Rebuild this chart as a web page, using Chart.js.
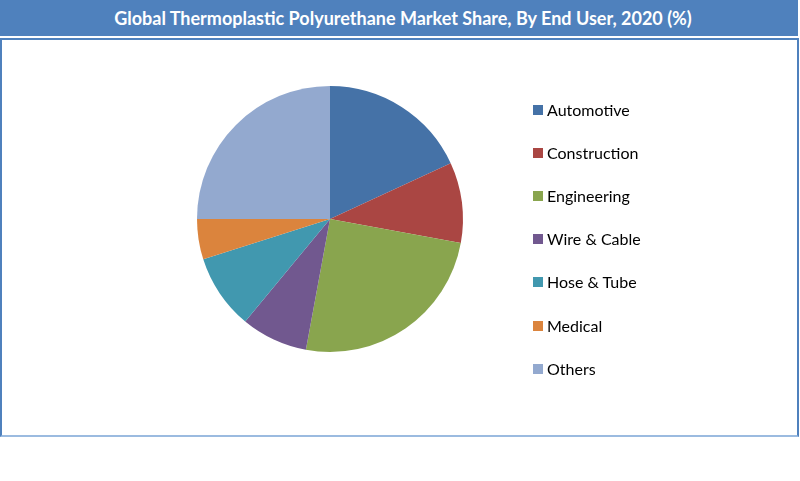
<!DOCTYPE html>
<html>
<head>
<meta charset="utf-8">
<script src="https://cdn.jsdelivr.net/npm/chart.js@4/dist/chart.umd.min.js"></script>
<style>
  html, body { margin: 0; padding: 0; background: #fff; }
  body { width: 800px; height: 481px; position: relative; overflow: hidden; font-family: Lato, "Open Sans", sans-serif; }
  #title {
    position: absolute; left: 0; top: 0; width: 798px; height: 36px;
    background: #4f81bd; color: #fff; font-weight: bold; font-size: 18px;
    line-height: 36px; text-align: center; padding-left: 8px; box-sizing: border-box;
  }
  #frame {
    position: absolute; left: 0; top: 38px; width: 799px; height: 399px;
    box-sizing: border-box; border: 2px solid #4f81bd; border-bottom-color: #9bbbe0;
  }
  #chartWrap { position: absolute; left: 2px; top: 40px; width: 794px; height: 394px; }
  #legend { position: absolute; left: 533px; top: 0; list-style: none; margin: 0; padding: 0; }
  #legend li { position: absolute; left: 0; white-space: nowrap; font-size: 16px; color: #000; height: 20px; line-height: 20px; }
  #legend .box { position: absolute; left: 0; top: 5px; width: 10px; height: 10px; }
  #legend .txt { position: absolute; left: 14px; top: 0; }
</style>
</head>
<body>
<div id="title">Global Thermoplastic Polyurethane Market Share, By End User, 2020 (%)</div>
<div id="frame"></div>
<div id="chartWrap"><canvas id="pieChart" width="794" height="394"></canvas></div>
<ul id="legend"></ul>

<script>
// ── Data ──
const endUsers = ['Automotive', 'Construction', 'Engineering', 'Wire & Cable', 'Hose & Tube', 'Medical', 'Others'];
const shares = [18.1, 9.8, 25.0, 8.1, 9.1, 4.9, 25.0];
const sliceColors = ['#4572a7', '#aa4643', '#89a54e', '#71588f', '#4198af', '#db843d', '#93a9cf'];

// ── Legend (HTML, built from the arrays) ──
const legendEl = document.getElementById('legend');
legendEl.innerHTML = endUsers.map((name, i) => `
  <li style="top:${100 + i * 43.1}px">
    <span class="box" style="background:${sliceColors[i]}"></span>
    <span class="txt">${name.replace('&', '&amp;')}</span>
  </li>
`).join('');

// ── Pie ──
new Chart(document.getElementById('pieChart'), {
  type: 'pie',
  data: {
    labels: endUsers,
    datasets: [{
      data: shares,
      backgroundColor: sliceColors,
      borderWidth: 0,
      hoverOffset: 0,
      offset: 0
    }]
  },
  options: {
    responsive: false,
    animation: false,
    layout: { padding: { left: 195, right: 333, top: 46, bottom: 82 } },
    plugins: {
      legend: { display: false },
      title: { display: false },
      tooltip: { enabled: false }
    }
  }
});
</script>
</body>
</html>
